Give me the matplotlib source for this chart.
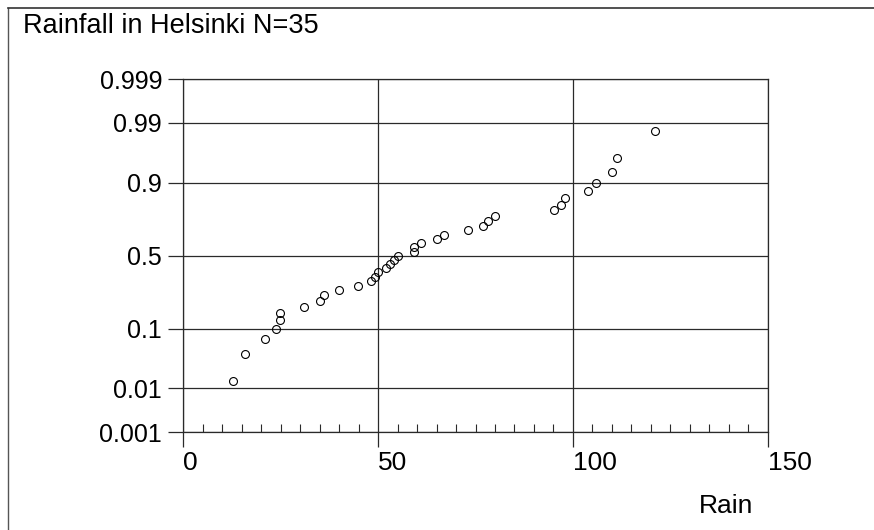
"""Normal probability plot of Helsinki rainfall."""

from statistics import NormalDist

import matplotlib

matplotlib.use("Agg")

import matplotlib.pyplot as plt
import numpy as np
from matplotlib.lines import Line2D
from matplotlib.ticker import FixedLocator, MultipleLocator

# rainfall values, sorted
rain = [
    12.8, 15.9, 21.0, 23.9, 24.9, 24.9, 30.9, 35.0, 36.0, 40.0,
    44.8, 48.1, 49.1, 50.0, 52.0, 53.1, 54.0, 55.0, 59.1, 59.1,
    61.0, 65.0, 67.0, 73.0, 77.0, 78.1, 80.0, 95.1, 97.0, 98.1,
    104.0, 106.0, 110.0, 111.2, 121.1,
]
prob_ticks = [0.001, 0.01, 0.1, 0.5, 0.9, 0.99, 0.999]
prob_labels = ["0.001", "0.01", "0.1", "0.5", "0.9", "0.99", "0.999"]
x_ticks = [0, 50, 100, 150]
x_tick_labels = ["0", "50", "100", "150"]
title = "Rainfall in Helsinki N=35"
x_label = "Rain"

n = len(rain)
# Hazen plotting positions
plot_pos = (np.arange(1, n + 1) - 0.5) / n

_nd = NormalDist()
_ppf = np.vectorize(lambda p: _nd.inv_cdf(min(max(p, 1e-12), 1 - 1e-12)),
                    otypes=[float])
_cdf = np.vectorize(_nd.cdf, otypes=[float])


def probit(p):
    return _ppf(np.asarray(p, dtype=float))


def inv_probit(z):
    return _cdf(np.asarray(z, dtype=float))


W, H = 874, 530
fig = plt.figure(figsize=(W / 100, H / 100), dpi=100)
plt.rcParams["font.family"] = ["Liberation Sans", "DejaVu Sans"]

left, right, top, bottom = 183.3, 767.7, 79.3, 432.0
ax = fig.add_axes([left / W, 1 - bottom / H, (right - left) / W, (bottom - top) / H])

ax.set_yscale("function", functions=(probit, inv_probit))
ax.plot(rain, plot_pos, linestyle="none", marker="o", markersize=5.7,
        markerfacecolor="none", markeredgecolor="black", markeredgewidth=0.8,
        zorder=3)

ax.set_xlim(0, 150)
ax.set_ylim(0.001, 0.999)

line_col = "#2a2a2a"
ax.yaxis.set_major_locator(FixedLocator(prob_ticks))
ax.set_yticklabels(prob_labels, fontsize=18)
ax.yaxis.set_minor_locator(FixedLocator([]))
ax.xaxis.set_major_locator(FixedLocator(x_ticks))
ax.set_xticklabels(x_tick_labels, fontsize=19, ha="left")
ax.xaxis.set_minor_locator(MultipleLocator(5))
ax.set_axisbelow(True)
ax.grid(True, which="major", color=line_col, linewidth=0.9)

ax.tick_params(axis="y", which="major", direction="out", length=10.8,
               width=0.9, color=line_col, pad=4.5)
ax.tick_params(axis="x", which="major", direction="out", length=10.6,
               width=0.9, color=line_col, pad=3.0)
ax.tick_params(axis="x", which="minor", direction="in", length=5.8,
               width=0.8, color=line_col)

for sp in ax.spines.values():
    sp.set_color(line_col)
    sp.set_linewidth(0.9)

fig.text(22.7 / W, 1 - 33 / H, title, fontsize=19.5, va="baseline", ha="left")
fig.text(699 / W, 1 - 513 / H, x_label, fontsize=19, va="baseline", ha="left")

# outer frame (top and left edges only are visible in the image)
fig.add_artist(Line2D([8 / W, 8 / W], [0, 1 - 8 / H], transform=fig.transFigure,
                      color="#555555", linewidth=1.0))
fig.add_artist(Line2D([8 / W, 1], [1 - 8 / H, 1 - 8 / H], transform=fig.transFigure,
                      color="#333333", linewidth=1.2))

fig.savefig("out.png", dpi=100)
